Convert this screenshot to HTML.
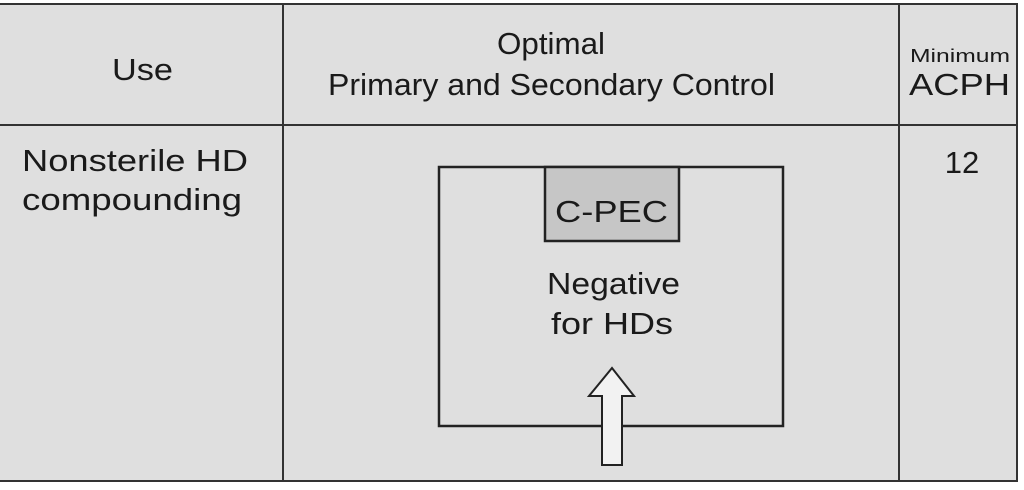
<!DOCTYPE html>
<html><head><meta charset="utf-8"><style>
html,body{margin:0;padding:0;background:#fff;}
svg{display:block;}
text{font-family:"Liberation Sans",Arial,sans-serif;fill:#1a1a1a;}
</style></head><body>
<svg width="1024" height="490" viewBox="0 0 1024 490">
<rect x="0" y="4" width="1017" height="477" fill="#dfdfdf"/>
<g stroke="#333" stroke-width="2" fill="none">
<line x1="0" y1="4" x2="1018" y2="4"/>
<line x1="0" y1="125" x2="1018" y2="125"/>
<line x1="0" y1="481" x2="1018" y2="481"/>
<line x1="283" y1="4" x2="283" y2="481"/>
<line x1="899" y1="4" x2="899" y2="481"/>
<line x1="1017" y1="4" x2="1017" y2="481"/>
</g>
<g font-size="31">
<text x="112" y="80" textLength="61" lengthAdjust="spacingAndGlyphs">Use</text>
<text x="497" y="54" textLength="108" lengthAdjust="spacingAndGlyphs">Optimal</text>
<text x="328" y="95" textLength="447" lengthAdjust="spacingAndGlyphs">Primary and Secondary Control</text>
<text x="910" y="62" font-size="18" textLength="100" lengthAdjust="spacingAndGlyphs">Minimum</text>
<text x="909" y="95" textLength="101" lengthAdjust="spacingAndGlyphs">ACPH</text>
<text x="22" y="171" textLength="226" lengthAdjust="spacingAndGlyphs">Nonsterile HD</text>
<text x="22" y="210" textLength="220" lengthAdjust="spacingAndGlyphs">compounding</text>
<text x="962" y="173" text-anchor="middle">12</text>
</g>
<rect x="439" y="167" width="344" height="259" fill="none" stroke="#222" stroke-width="2.5"/>
<rect x="545" y="167" width="134" height="74" fill="#c6c6c6" stroke="#222" stroke-width="2.5"/>
<g font-size="31">
<text x="555" y="222" textLength="113" lengthAdjust="spacingAndGlyphs">C-PEC</text>
<text x="547" y="294" textLength="133" lengthAdjust="spacingAndGlyphs">Negative</text>
<text x="551" y="334" textLength="122" lengthAdjust="spacingAndGlyphs">for HDs</text>
</g>
<polygon points="612,368 634,396 622,396 622,465 602,465 602,396 589,396" fill="#f2f2f2" stroke="#222" stroke-width="2"/>
</svg>
</body></html>
